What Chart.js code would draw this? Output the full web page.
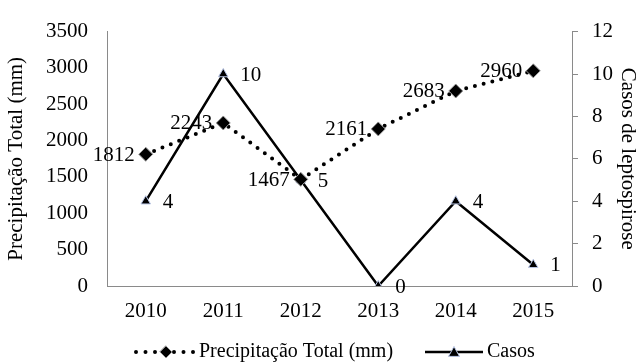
<!DOCTYPE html>
<html>
<head>
<meta charset="utf-8">
<script src="https://cdn.jsdelivr.net/npm/chart.js@4.4.1/dist/chart.umd.min.js"></script>
<style>
  html, body { margin: 0; padding: 0; background: #fff; }
  #wrap { width: 640px; height: 363px; position: relative; }
</style>
</head>
<body>
<div id="wrap"><canvas id="chart"></canvas></div>
<script>
// Chart data
const years = ["2010", "2011", "2012", "2013", "2014", "2015"];
const precipitacao = [1812, 2243, 1467, 2161, 2683, 2960];
const casos = [4, 10, 5, 0, 4, 1];

const leftLabel = "Precipitação Total (mm)";
const rightLabel = "Casos de leptospirose";
const legendPrec = "Precipitação Total (mm)";
const legendCasos = "Casos";

const FONT = "'Liberation Serif', 'Times New Roman', serif";
const AXIS_GRAY = "#8a8a8a";
const FS = 21;

// Value labels next to each point
const valueLabels = {
    id: "valueLabels",
    afterDatasetsDraw(chart) {
        const ctx = chart.ctx;
        ctx.save();
        ctx.font = FS + "px " + FONT;
        ctx.fillStyle = "#000";
        ctx.textBaseline = "middle";
        chart.data.datasets.forEach((ds, i) => {
            const meta = chart.getDatasetMeta(i);
            meta.data.forEach((pt, j) => {
                if (i === 0) {
                    ctx.textAlign = "right";
                    ctx.fillText(String(ds.data[j]), pt.x - 11, pt.y + 1);
                } else {
                    ctx.textAlign = "left";
                    ctx.fillText(String(ds.data[j]), pt.x + 17, pt.y + 1);
                }
            });
        });
        ctx.restore();
    }
};

// Legend at the bottom, drawn with line samples
const bottomLegend = {
    id: "bottomLegend",
    afterDraw(chart) {
        const ctx = chart.ctx;
        const y = 352;
        ctx.save();

        // dotted sample
        ctx.strokeStyle = "#000";
        ctx.lineWidth = 4;
        ctx.lineCap = "round";
        ctx.setLineDash([0, 9.5]);
        ctx.beginPath();
        ctx.moveTo(136, y);
        ctx.lineTo(196, y);
        ctx.stroke();
        ctx.setLineDash([]);
        drawDiamond(ctx, 166, y, 6);

        ctx.font = "20px " + FONT;
        ctx.fillStyle = "#000";
        ctx.textAlign = "left";
        ctx.textBaseline = "middle";
        ctx.fillText(legendPrec, 199, y);

        // solid sample
        ctx.strokeStyle = "#000";
        ctx.lineWidth = 2.5;
        ctx.lineCap = "butt";
        ctx.beginPath();
        ctx.moveTo(425, y);
        ctx.lineTo(483, y);
        ctx.stroke();
        drawTriangle(ctx, 454, y, 5.5);

        ctx.fillStyle = "#000";
        ctx.fillText(legendCasos, 487, y);
        ctx.restore();
    }
};

function drawDiamond(ctx, x, y, r) {
    ctx.beginPath();
    ctx.moveTo(x, y - r);
    ctx.lineTo(x + r, y);
    ctx.lineTo(x, y + r);
    ctx.lineTo(x - r, y);
    ctx.closePath();
    ctx.fillStyle = "#000";
    ctx.fill();
    ctx.lineWidth = 1;
    ctx.strokeStyle = "#999";
    ctx.stroke();
}

function drawTriangle(ctx, x, y, r) {
    ctx.beginPath();
    ctx.moveTo(x, y - r);
    ctx.lineTo(x + r, y + r * 0.8);
    ctx.lineTo(x - r, y + r * 0.8);
    ctx.closePath();
    ctx.fillStyle = "#000";
    ctx.fill();
    ctx.lineWidth = 1;
    ctx.strokeStyle = "#b9c6e6";
    ctx.stroke();
}

Chart.defaults.font.family = FONT;
Chart.defaults.color = "#000";

new Chart(document.getElementById("chart"), {
    type: "line",
    data: {
        labels: years,
        datasets: [
            {
                label: legendPrec,
                data: precipitacao,
                yAxisID: "y",
                borderColor: "#000",
                borderWidth: 4,
                borderDash: [0, 9],
                borderCapStyle: "round",
                pointStyle: "rectRot",
                pointRadius: 7,
                pointBackgroundColor: "#000",
                pointBorderColor: "#999",
                pointBorderWidth: 1,
                tension: 0
            },
            {
                label: legendCasos,
                data: casos,
                yAxisID: "y1",
                borderColor: "#000",
                borderWidth: 2.5,
                pointStyle: "triangle",
                pointRadius: 5.5,
                pointBackgroundColor: "#000",
                pointBorderColor: "#b9c6e6",
                pointBorderWidth: 1,
                tension: 0
            }
        ]
    },
    options: {
        responsive: true,
        maintainAspectRatio: false,
        animation: false,
        layout: { padding: { top: 25, bottom: 0, left: 0, right: 0 } },
        plugins: {
            legend: { display: false },
            tooltip: { enabled: false }
        },
        scales: {
            x: {
                offset: true,
                grid: { display: false, drawTicks: false },
                border: { display: true, color: AXIS_GRAY, width: 1 },
                ticks: { font: { size: FS }, padding: 13, maxRotation: 0 },
                afterFit(scale) { scale.height = 77; }
            },
            y: {
                position: "left",
                min: 0,
                max: 3500,
                ticks: {
                    stepSize: 500,
                    font: { size: FS },
                    padding: 19,
                    callback: (v) => String(v)
                },
                grid: { display: false, drawTicks: false },
                border: { display: true, color: AXIS_GRAY, width: 1 },
                title: {
                    display: true,
                    text: leftLabel,
                    font: { size: FS },
                    padding: { top: 4, bottom: 0 }
                },
                afterFit(scale) { scale.width = 107; }
            },
            y1: {
                position: "right",
                min: 0,
                max: 12,
                ticks: {
                    stepSize: 2,
                    font: { size: FS },
                    padding: 14,
                    callback: (v) => String(v)
                },
                grid: {
                    display: true,
                    drawOnChartArea: false,
                    drawTicks: true,
                    tickLength: 6,
                    color: AXIS_GRAY
                },
                border: { display: true, color: AXIS_GRAY, width: 1 },
                title: {
                    display: true,
                    text: rightLabel,
                    font: { size: FS },
                    padding: { top: 0, bottom: 0 }
                },
                afterFit(scale) { scale.width = 68; }
            }
        }
    },
    plugins: [valueLabels, bottomLegend]
});
</script>
</body>
</html>
